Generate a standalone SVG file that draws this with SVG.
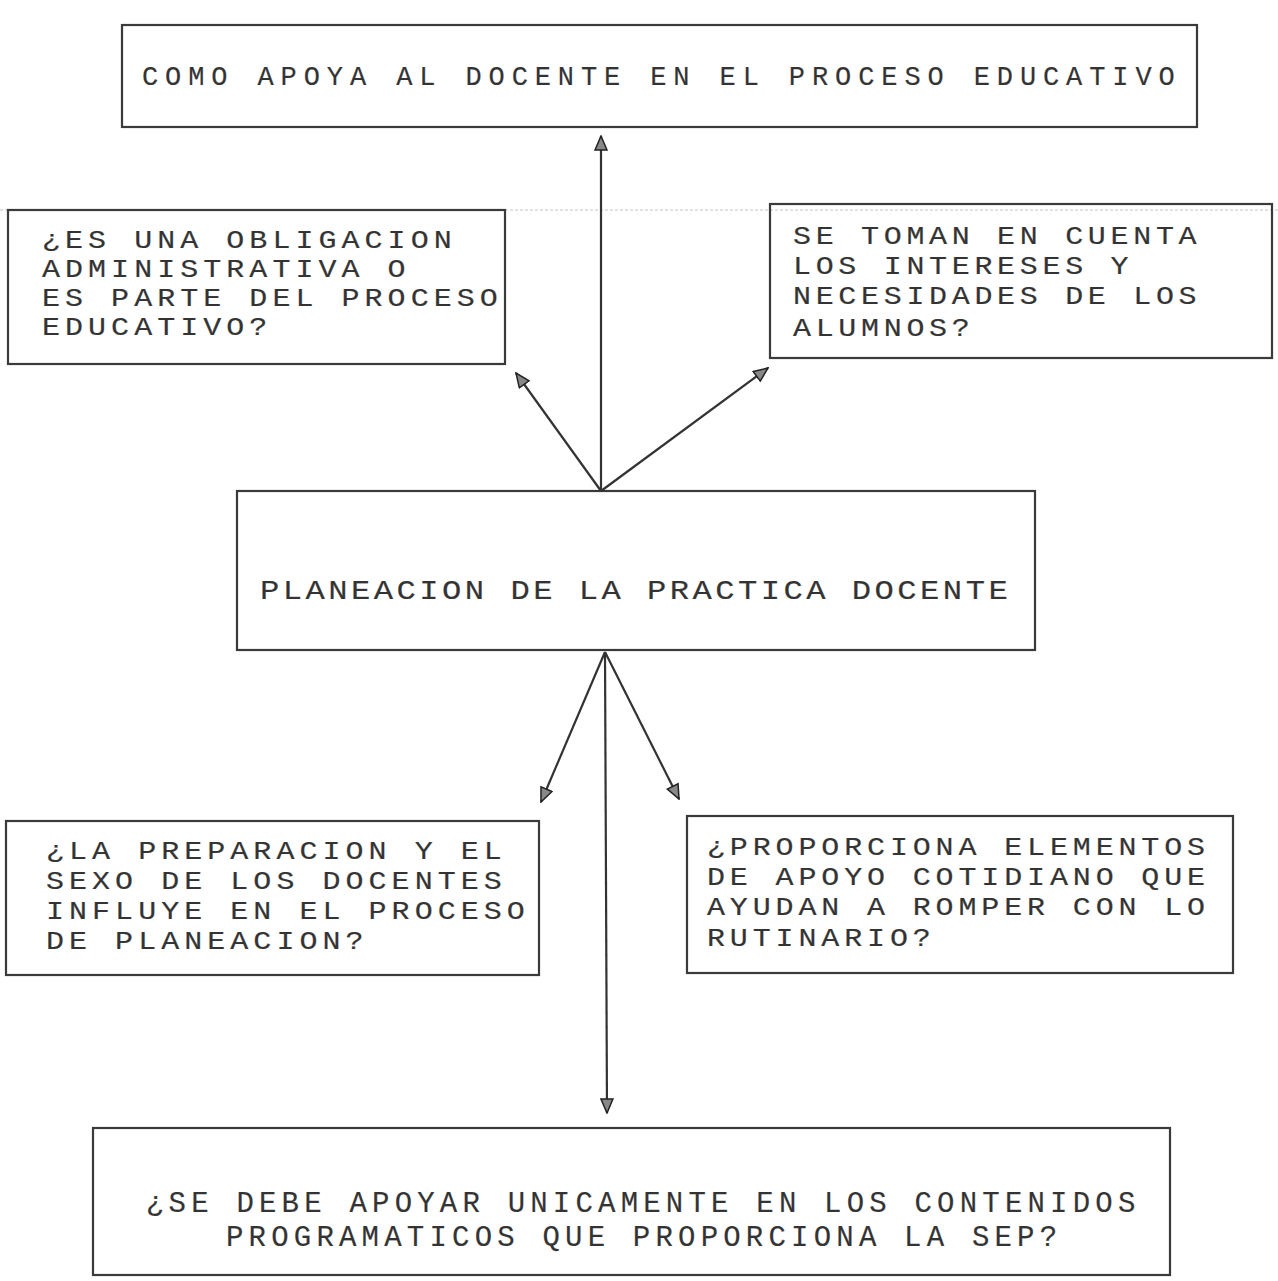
<svg xmlns="http://www.w3.org/2000/svg" width="1278" height="1281" viewBox="0 0 1278 1281">
<defs>
<style>
.box{fill:none;stroke:#3a3a3a;stroke-width:2.2}
.t{font-family:"Liberation Mono","DejaVu Sans Mono",monospace;fill:#333333;stroke:#555555;stroke-width:0.2}
.b{font-size:25px;letter-spacing:4.2px}
.conn line{stroke:#333;stroke-width:2.2}
</style>
<marker id="ah" viewBox="0 0 16 14" refX="15" refY="7" markerWidth="16" markerHeight="14" markerUnits="userSpaceOnUse" orient="auto">
<path d="M1,1 L15,7 L1,13 Z" fill="#888" stroke="#222" stroke-width="1.5"/>
</marker>
</defs>
<rect width="1278" height="1281" fill="#ffffff"/>
<line x1="0" y1="210" x2="1278" y2="210" stroke="#c4c4c4" stroke-width="1" stroke-dasharray="3 2"/>

<g id="n-top">
<rect class="box" x="122" y="25" width="1075" height="102"/>
<text class="t" x="142" y="85" style="font-size:27px;letter-spacing:6.9px">COMO APOYA AL DOCENTE EN EL PROCESO EDUCATIVO</text>
</g>

<g id="n-obligacion">
<rect class="box" x="8" y="210" width="497" height="154"/>
<g transform="translate(42,0) scale(1.2,1)">
<text class="t b">
<tspan x="0" y="248">¿ES UNA OBLIGACION</tspan>
<tspan x="0" y="277">ADMINISTRATIVA O</tspan>
<tspan x="0" y="306">ES PARTE DEL PROCESO</tspan>
<tspan x="0" y="335">EDUCATIVO?</tspan>
</text>
</g>
</g>

<g id="n-intereses">
<rect class="box" x="770" y="204" width="502" height="154"/>
<g transform="translate(793,0) scale(1.2,1)">
<text class="t b" style="letter-spacing:3.9px">
<tspan x="0" y="244">SE TOMAN EN CUENTA</tspan>
<tspan x="0" y="274">LOS INTERESES Y</tspan>
<tspan x="0" y="304">NECESIDADES DE LOS</tspan>
<tspan x="0" y="336">ALUMNOS?</tspan>
</text>
</g>
</g>

<g id="n-planeacion">
<rect class="box" x="237" y="491" width="798" height="159"/>
<g transform="translate(260,0) scale(1.15,1)">
<text class="t" x="0" y="599" style="font-size:28px;letter-spacing:3px">PLANEACION DE LA PRACTICA DOCENTE</text>
</g>
</g>

<g id="n-preparacion">
<rect class="box" x="6" y="821" width="533" height="154"/>
<g transform="translate(46,0) scale(1.2,1)">
<text class="t b">
<tspan x="0" y="859">¿LA PREPARACION Y EL</tspan>
<tspan x="0" y="889">SEXO DE LOS DOCENTES</tspan>
<tspan x="0" y="919">INFLUYE EN EL PROCESO</tspan>
<tspan x="0" y="949">DE PLANEACION?</tspan>
</text>
</g>
</g>

<g id="n-elementos">
<rect class="box" x="687" y="816" width="546" height="157"/>
<g transform="translate(707,0) scale(1.2,1)">
<text class="t b" style="letter-spacing:4.05px">
<tspan x="0" y="855">¿PROPORCIONA ELEMENTOS</tspan>
<tspan x="0" y="885">DE APOYO COTIDIANO QUE</tspan>
<tspan x="0" y="915">AYUDAN A ROMPER CON LO</tspan>
<tspan x="0" y="946">RUTINARIO?</tspan>
</text>
</g>
</g>

<g id="n-sep">
<rect class="box" x="93" y="1128" width="1077" height="147"/>
<text class="t" style="font-size:29px;letter-spacing:5.2px">
<tspan x="146" y="1212">¿SE DEBE APOYAR UNICAMENTE EN LOS CONTENIDOS</tspan>
<tspan x="226" y="1246">PROGRAMATICOS QUE PROPORCIONA LA SEP?</tspan>
</text>
</g>

<g id="connectors" class="conn">
<line x1="601" y1="491" x2="601" y2="136" marker-end="url(#ah)"/>
<line x1="601" y1="491" x2="516" y2="373" marker-end="url(#ah)"/>
<line x1="601" y1="491" x2="768" y2="368" marker-end="url(#ah)"/>
<line x1="605" y1="652" x2="541" y2="802" marker-end="url(#ah)"/>
<line x1="605" y1="652" x2="679" y2="799" marker-end="url(#ah)"/>
<line x1="605" y1="652" x2="607" y2="1113" marker-end="url(#ah)"/>
</g>
</svg>
